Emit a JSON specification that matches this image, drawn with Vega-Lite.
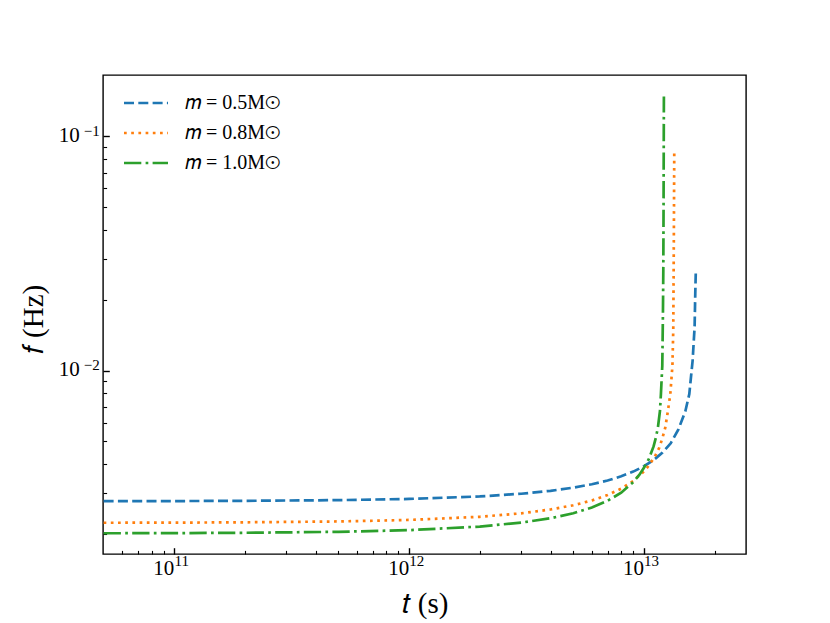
{
  "$schema": "https://vega.github.io/schema/vega-lite/v6.json",
  "width": 643,
  "height": 479,
  "autosize": {"type": "none"},
  "padding": {"left": 103, "top": 75, "right": 84, "bottom": 69},
  "background": "white",
  "data": {
    "values": [
      {"m": "𝑚 = 0.5M⊙", "t": 5e10, "f": 0.002773},
      {"m": "𝑚 = 0.5M⊙", "t": 1e11, "f": 0.002776},
      {"m": "𝑚 = 0.5M⊙", "t": 2e11, "f": 0.002783},
      {"m": "𝑚 = 0.5M⊙", "t": 5e11, "f": 0.002802},
      {"m": "𝑚 = 0.5M⊙", "t": 1e12, "f": 0.002835},
      {"m": "𝑚 = 0.5M⊙", "t": 2e12, "f": 0.002906},
      {"m": "𝑚 = 0.5M⊙", "t": 3e12, "f": 0.002984},
      {"m": "𝑚 = 0.5M⊙", "t": 4e12, "f": 0.003071},
      {"m": "𝑚 = 0.5M⊙", "t": 5e12, "f": 0.003167},
      {"m": "𝑚 = 0.5M⊙", "t": 6e12, "f": 0.003276},
      {"m": "𝑚 = 0.5M⊙", "t": 7e12, "f": 0.003399},
      {"m": "𝑚 = 0.5M⊙", "t": 8e12, "f": 0.003542},
      {"m": "𝑚 = 0.5M⊙", "t": 9e12, "f": 0.003709},
      {"m": "𝑚 = 0.5M⊙", "t": 1e13, "f": 0.00391},
      {"m": "𝑚 = 0.5M⊙", "t": 1.1e13, "f": 0.004156},
      {"m": "𝑚 = 0.5M⊙", "t": 1.2e13, "f": 0.004472},
      {"m": "𝑚 = 0.5M⊙", "t": 1.3e13, "f": 0.004898},
      {"m": "𝑚 = 0.5M⊙", "t": 1.4e13, "f": 0.0056},
      {"m": "𝑚 = 0.5M⊙", "t": 1.5e13, "f": 0.0067},
      {"m": "𝑚 = 0.5M⊙", "t": 1.56e13, "f": 0.00795},
      {"m": "𝑚 = 0.5M⊙", "t": 1.611e13, "f": 0.011},
      {"m": "𝑚 = 0.5M⊙", "t": 1.643e13, "f": 0.0153},
      {"m": "𝑚 = 0.5M⊙", "t": 1.654e13, "f": 0.0213},
      {"m": "𝑚 = 0.5M⊙", "t": 1.663e13, "f": 0.0267},
      {"m": "𝑚 = 0.8M⊙", "t": 5e10, "f": 0.002243},
      {"m": "𝑚 = 0.8M⊙", "t": 1e11, "f": 0.002246},
      {"m": "𝑚 = 0.8M⊙", "t": 2e11, "f": 0.002253},
      {"m": "𝑚 = 0.8M⊙", "t": 5e11, "f": 0.002272},
      {"m": "𝑚 = 0.8M⊙", "t": 1e12, "f": 0.002306},
      {"m": "𝑚 = 0.8M⊙", "t": 2e12, "f": 0.002379},
      {"m": "𝑚 = 0.8M⊙", "t": 3e12, "f": 0.002461},
      {"m": "𝑚 = 0.8M⊙", "t": 4e12, "f": 0.002556},
      {"m": "𝑚 = 0.8M⊙", "t": 5e12, "f": 0.002664},
      {"m": "𝑚 = 0.8M⊙", "t": 6e12, "f": 0.002792},
      {"m": "𝑚 = 0.8M⊙", "t": 7e12, "f": 0.002947},
      {"m": "𝑚 = 0.8M⊙", "t": 8e12, "f": 0.003137},
      {"m": "𝑚 = 0.8M⊙", "t": 9e12, "f": 0.003382},
      {"m": "𝑚 = 0.8M⊙", "t": 1e13, "f": 0.003716},
      {"m": "𝑚 = 0.8M⊙", "t": 1.05e13, "f": 0.00394},
      {"m": "𝑚 = 0.8M⊙", "t": 1.081e13, "f": 0.00412},
      {"m": "𝑚 = 0.8M⊙", "t": 1.12e13, "f": 0.00436},
      {"m": "𝑚 = 0.8M⊙", "t": 1.163e13, "f": 0.0047},
      {"m": "𝑚 = 0.8M⊙", "t": 1.2e13, "f": 0.00518},
      {"m": "𝑚 = 0.8M⊙", "t": 1.233e13, "f": 0.00573},
      {"m": "𝑚 = 0.8M⊙", "t": 1.265e13, "f": 0.00674},
      {"m": "𝑚 = 0.8M⊙", "t": 1.295e13, "f": 0.00795},
      {"m": "𝑚 = 0.8M⊙", "t": 1.322e13, "f": 0.0105},
      {"m": "𝑚 = 0.8M⊙", "t": 1.333e13, "f": 0.015},
      {"m": "𝑚 = 0.8M⊙", "t": 1.338e13, "f": 0.0267},
      {"m": "𝑚 = 0.8M⊙", "t": 1.342e13, "f": 0.045},
      {"m": "𝑚 = 0.8M⊙", "t": 1.346e13, "f": 0.0849},
      {"m": "𝑚 = 1.0M⊙", "t": 5e10, "f": 0.002023},
      {"m": "𝑚 = 1.0M⊙", "t": 1e11, "f": 0.002026},
      {"m": "𝑚 = 1.0M⊙", "t": 2e11, "f": 0.002033},
      {"m": "𝑚 = 1.0M⊙", "t": 5e11, "f": 0.002052},
      {"m": "𝑚 = 1.0M⊙", "t": 1e12, "f": 0.002086},
      {"m": "𝑚 = 1.0M⊙", "t": 2e12, "f": 0.002161},
      {"m": "𝑚 = 1.0M⊙", "t": 3e12, "f": 0.002246},
      {"m": "𝑚 = 1.0M⊙", "t": 4e12, "f": 0.002345},
      {"m": "𝑚 = 1.0M⊙", "t": 5e12, "f": 0.002463},
      {"m": "𝑚 = 1.0M⊙", "t": 6e12, "f": 0.002605},
      {"m": "𝑚 = 1.0M⊙", "t": 7e12, "f": 0.002784},
      {"m": "𝑚 = 1.0M⊙", "t": 8e12, "f": 0.003016},
      {"m": "𝑚 = 1.0M⊙", "t": 9e12, "f": 0.003343},
      {"m": "𝑚 = 1.0M⊙", "t": 9.55e12, "f": 0.00359},
      {"m": "𝑚 = 1.0M⊙", "t": 1e13, "f": 0.00385},
      {"m": "𝑚 = 1.0M⊙", "t": 1.047e13, "f": 0.00418},
      {"m": "𝑚 = 1.0M⊙", "t": 1.099e13, "f": 0.00475},
      {"m": "𝑚 = 1.0M⊙", "t": 1.125e13, "f": 0.0052},
      {"m": "𝑚 = 1.0M⊙", "t": 1.147e13, "f": 0.00573},
      {"m": "𝑚 = 1.0M⊙", "t": 1.17e13, "f": 0.00674},
      {"m": "𝑚 = 1.0M⊙", "t": 1.181e13, "f": 0.00795},
      {"m": "𝑚 = 1.0M⊙", "t": 1.197e13, "f": 0.0105},
      {"m": "𝑚 = 1.0M⊙", "t": 1.205e13, "f": 0.018},
      {"m": "𝑚 = 1.0M⊙", "t": 1.209e13, "f": 0.0267},
      {"m": "𝑚 = 1.0M⊙", "t": 1.212e13, "f": 0.05},
      {"m": "𝑚 = 1.0M⊙", "t": 1.214e13, "f": 0.087},
      {"m": "𝑚 = 1.0M⊙", "t": 1.216e13, "f": 0.148}
    ]
  },
  "layer": [
    {
      "mark": {"type": "line", "strokeWidth": 2.7, "strokeCap": "butt", "clip": true},
      "encoding": {
        "x": {
          "field": "t",
          "type": "quantitative",
          "scale": {"type": "log", "domain": [4.97e10, 2.72e13], "nice": false},
          "axis": {
            "orient": "bottom",
            "title": "𝑡 (s)",
            "values": [6e10, 7e10, 8e10, 9e10, 1e11, 2e11, 3e11, 4e11, 5e11, 6e11, 7e11, 8e11, 9e11, 1e12, 2e12, 3e12, 4e12, 5e12, 6e12, 7e12, 8e12, 9e12, 1e13, 2e13],
            "labelExpr": "datum.value == 1e11 || datum.value == 1e12 || datum.value == 1e13 ? '10' : ''",
            "tickSize": {"condition": {"test": "datum.value == 1e11 || datum.value == 1e12 || datum.value == 1e13", "value": -6.3}, "value": -3.6},
            "tickWidth": {"condition": {"test": "datum.value == 1e11 || datum.value == 1e12 || datum.value == 1e13", "value": 1.4}, "value": 1.1},
            "labelFontSize": 21,
            "labelPadding": 10,
            "labelOffset": -11,
            "titleY": 49,
            "titleBaseline": "middle"
          }
        },
        "y": {
          "field": "f",
          "type": "quantitative",
          "scale": {"type": "log", "domain": [0.00165, 0.183], "nice": false},
          "axis": {
            "orient": "left",
            "title": "𝑓 (Hz)",
            "values": [0.002, 0.003, 0.004, 0.005, 0.006, 0.007, 0.008, 0.009, 0.01, 0.02, 0.03, 0.04, 0.05, 0.06, 0.07, 0.08, 0.09, 0.1],
            "labelExpr": "datum.value == 0.1 || datum.value == 0.01 ? '10' : ''",
            "tickSize": {"condition": {"test": "datum.value == 0.1 || datum.value == 0.01", "value": -6.3}, "value": -3.6},
            "tickWidth": {"condition": {"test": "datum.value == 0.1 || datum.value == 0.01", "value": 1.4}, "value": 1.1},
            "labelFontSize": 21,
            "labelPadding": 30,
            "labelOffset": -1,
            "titleX": -70,
            "titleY": 244,
            "titleBaseline": "middle"
          }
        },
        "color": {
          "field": "m",
          "type": "nominal",
          "scale": {"domain": ["𝑚 = 0.5M⊙", "𝑚 = 0.8M⊙", "𝑚 = 1.0M⊙"], "range": ["#1f77b4", "#ff7f0e", "#2ca02c"]},
          "legend": {
            "title": null,
            "orient": "none",
            "legendX": 33,
            "legendY": 18,
            "symbolType": "M-3,0H3",
            "symbolSize": 215,
            "symbolStrokeWidth": 2.7,
            "labelFont": "Liberation Serif",
            "labelFontSize": 20,
            "labelColor": "black",
            "labelOffset": 29,
            "rowPadding": 10
          }
        },
        "strokeDash": {
          "field": "m",
          "type": "nominal",
          "scale": {"domain": ["𝑚 = 0.5M⊙", "𝑚 = 0.8M⊙", "𝑚 = 1.0M⊙"], "range": [[10, 4.3], [2.7, 4.5], [17.3, 4.3, 2.7, 4.3]]},
          "legend": null
        }
      }
    },
    {
      "mark": {"type": "point", "opacity": 0, "size": 0},
      "encoding": {
        "x": {
          "field": "t",
          "type": "quantitative",
          "scale": {"type": "log", "domain": [4.97e10, 2.72e13], "nice": false},
          "axis": {
            "orient": "bottom",
            "title": null,
            "values": [6e10, 7e10, 8e10, 9e10, 1e11, 2e11, 3e11, 4e11, 5e11, 6e11, 7e11, 8e11, 9e11, 1e12, 2e12, 3e12, 4e12, 5e12, 6e12, 7e12, 8e12, 9e12, 1e13, 2e13],
            "labelExpr": "datum.value == 1e11 ? '11' : datum.value == 1e12 ? '12' : datum.value == 1e13 ? '13' : ''",
            "tickSize": {"condition": {"test": "datum.value == 1e11 || datum.value == 1e12 || datum.value == 1e13", "value": -6.3}, "value": -3.6},
            "tickOpacity": 0,
            "labelFontSize": 15,
            "labelPadding": 6,
            "labelOffset": 7
          }
        },
        "y": {
          "field": "f",
          "type": "quantitative",
          "scale": {"type": "log", "domain": [0.00165, 0.183], "nice": false},
          "axis": {
            "orient": "left",
            "title": null,
            "values": [0.002, 0.003, 0.004, 0.005, 0.006, 0.007, 0.008, 0.009, 0.01, 0.02, 0.03, 0.04, 0.05, 0.06, 0.07, 0.08, 0.09, 0.1],
            "labelExpr": "datum.value == 0.1 ? '−1' : datum.value == 0.01 ? '−2' : ''",
            "tickSize": {"condition": {"test": "datum.value == 0.1 || datum.value == 0.01", "value": -6.3}, "value": -3.6},
            "tickOpacity": 0,
            "labelFontSize": 15,
            "labelPadding": 10,
            "labelOffset": -6
          }
        }
      }
    }
  ],
  "resolve": {"axis": {"x": "independent", "y": "independent"}},
  "config": {
    "view": {"stroke": "black", "strokeWidth": 1.4},
    "axis": {
      "grid": false,
      "domain": false,
      "tickColor": "black",
      "labelColor": "black",
      "titleColor": "black",
      "labelFont": "Liberation Serif",
      "titleFont": "Liberation Serif",
      "titleFontSize": 29,
      "titleFontWeight": "normal"
    },
    "axisY": {"titleAngle": -90}
  }
}
